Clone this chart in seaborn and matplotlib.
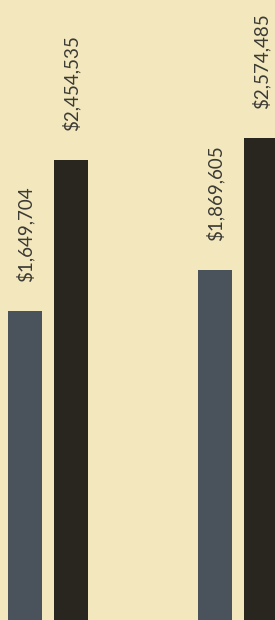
import matplotlib
matplotlib.use("Agg")
import matplotlib.pyplot as plt
import seaborn as sns
import pandas as pd

groups = ["Group 1", "Group 1", "Group 2", "Group 2"]
series = ["First", "Second", "First", "Second"]
values = [1649704, 2454535, 1869605, 2574485]
labels = ["$1,649,704", "$2,454,535", "$1,869,605", "$2,574,485"]

bg = "#f2e7bd"
palette = {"First": "#4a525b", "Second": "#29251f"}

df = pd.DataFrame({"group": groups, "series": series, "value": values})

sns.set_theme(style="white")
plt.rcParams["font.family"] = ["Lato", "DejaVu Sans"]

fig = plt.figure(figsize=(2.75, 6.2), dpi=100)
fig.patch.set_facecolor(bg)
ax = fig.add_axes([0, 0, 1, 1])
ax.set_facecolor(bg)

sns.barplot(data=df, x="group", y="value", hue="series", palette=palette,
            width=0.48, gap=0.25, legend=False, ax=ax, saturation=1,
            linewidth=0)

ax.set_xlim(-0.2526, 1.195)
ax.set_ylim(0, 3.31e6)
ax.axis("off")

for cont, labs in zip(ax.containers, [[labels[0], labels[2]], [labels[1], labels[3]]]):
    ax.bar_label(cont, labels=labs, rotation=90, padding=21, fontsize=13.5,
                 color="#3b3a35")

fig.savefig("out.png", dpi=100, facecolor=bg)
